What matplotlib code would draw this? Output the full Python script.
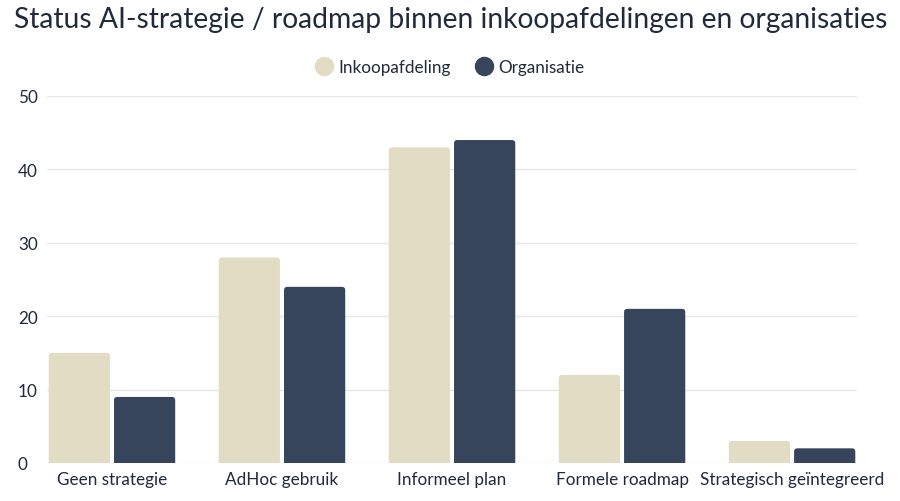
import numpy as np
import matplotlib.pyplot as plt
from matplotlib.lines import Line2D
from matplotlib.patches import FancyBboxPatch

categories = ['Geen strategie', 'AdHoc gebruik', 'Informeel plan', 'Formele roadmap', 'Strategisch geïntegreerd']
inkoop = [15, 28, 43, 12, 3]
organisatie = [9, 24, 44, 21, 2]

light = '#e3dcc5'
dark = '#36455c'
text_col = '#1f2a3c'

plt.rcParams['font.family'] = ['Lato', 'DejaVu Sans']

fig = plt.figure(figsize=(9, 5.02), dpi=100)
ax = fig.add_axes([47 / 900, 1 - 464 / 502, 810 / 900, 367 / 502])

x = np.arange(len(categories))
w = 0.36
b1 = ax.bar(x - w / 2 - 0.012, inkoop, width=w, color=light, label='Inkoopafdeling', zorder=3)
b2 = ax.bar(x + w / 2 + 0.012, organisatie, width=w, color=dark, label='Organisatie', zorder=3)

# swap plain bars for ones with slightly rounded top corners
for bars, col in [(b1, light), (b2, dark)]:
    for p in bars:
        p.set_visible(False)
        rp = FancyBboxPatch((p.get_x(), -1), p.get_width(), p.get_height() + 1,
                            boxstyle='round,pad=0,rounding_size=0.02', mutation_aspect=22,
                            facecolor=col, edgecolor='none', zorder=3)
        ax.add_patch(rp)

ax.set_xlim(-0.382, 4.382)
ax.set_ylim(0, 50)
ax.set_yticks([0, 10, 20, 30, 40, 50])
ax.grid(axis='y', color='#e6e6e6', linewidth=1, zorder=0)
for s in ax.spines.values():
    s.set_visible(False)
ax.tick_params(length=0, labelsize=12.3, colors=text_col)
ax.tick_params(axis='y', pad=21)
ax.tick_params(axis='x', pad=6)
ax.set_xticks(x)
ax.set_xticklabels(categories)
for lab in ax.get_yticklabels():
    lab.set_horizontalalignment('left')

fig.text(14 / 900, 1 - 20 / 502, 'Status AI-strategie / roadmap binnen inkoopafdelingen en organisaties',
         fontsize=20.3, color=text_col, va='center', ha='left')

handles = [Line2D([], [], marker='o', linestyle='', markersize=13, color=light),
           Line2D([], [], marker='o', linestyle='', markersize=13, color=dark)]
fig.legend(handles, ['Inkoopafdeling', 'Organisatie'], loc='center', bbox_to_anchor=(450 / 900, 1 - 68 / 502),
           ncol=2, frameon=False, fontsize=12.3, handlelength=1.0, columnspacing=1.5, handletextpad=0.3,
           labelcolor=text_col)

fig.savefig('out.png', dpi=100)
